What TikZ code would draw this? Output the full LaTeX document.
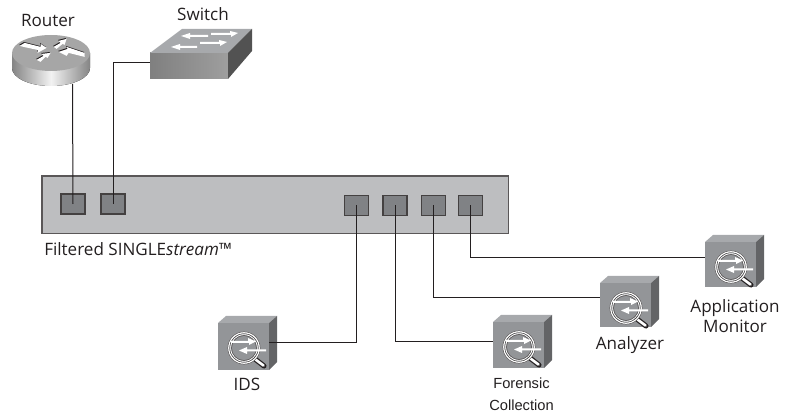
\documentclass[tikz,border=0pt]{standalone}
\usepackage{fontspec}
\setmainfont{Open Sans}
\newfontfamily\arialish{Liberation Sans}
\usetikzlibrary{calc}
\definecolor{chassis}{HTML}{BDBEC0}
\definecolor{portfill}{HTML}{808285}
\definecolor{wirec}{HTML}{231F20}
\definecolor{cubefront}{HTML}{939598}
\definecolor{cubetop}{HTML}{A7A9AC}
\definecolor{cuberight}{HTML}{636466}
\tikzset{
  x=0.75pt,y=-0.75pt,
  porto/.style={draw=wirec!85,fill=portfill,line width=0.9pt,minimum width=18pt,minimum height=15pt,inner sep=0pt,outer sep=0pt},
  wire/.style={draw=wirec,line width=0.75pt},
  lab/.style={font=\fontsize{12.8}{15}\selectfont,text=wirec,inner sep=0pt,align=center},
  anchorpt/.style={inner sep=0pt,minimum size=0pt,outer sep=0pt}
}
% #1 x, #2 y (front top-left), #3 height, #4 wire offset, #5 name
\newcommand{\probecube}[5]{%
\begin{scope}[shift={(#1,#2)}]
  \fill[cubefront] (0,0) rectangle (51,#3);
  \fill[cubetop] (0,0) -- (8,-7) -- (59,-7) -- (51,0) -- cycle;
  \fill[cuberight] (51,0) -- (59,-7) -- (59,#3-8) -- (51,#3) -- cycle;
  \draw[wirec,line width=3.8pt,line cap=round] (37,36) -- (46,43);
  \draw[white,line width=2pt,line cap=round] (37.5,36.5) -- (45.5,42.5);
  \draw[wirec!80,line width=0.5pt] (26,25) circle (16);
  \draw[white,line width=0.9pt] (26,25) circle (15.2);
  \draw[wirec!80,line width=0.4pt] (26,25) circle (14.2);
  \draw[white,line width=0.6pt] (26,25) circle (13.3);
  \draw[wirec!80,line width=0.4pt] (26,25) circle (12.5);
  \fill[white] (13,18) -- (30,18) -- (30,15) -- (38,18.5) -- (31,22) -- (31,20) -- (13,20) -- cycle;
  \fill[white] (48,26.5) -- (29,26.5) -- (29,24) -- (21,27.5) -- (29,31) -- (29,28.5) -- (48,28.5) -- cycle;
  \coordinate (#5l) at (0,#4);
  \coordinate (#5r) at (51,#4);
\end{scope}}
\begin{document}
\begin{tikzpicture}
\useasboundingbox (0,0) rectangle (794,417);
% chassis
\node[draw=wirec!75,fill=chassis,line width=1pt,minimum width=350pt,minimum height=43pt,inner sep=0pt,outer sep=0pt,anchor=north west] (chassis) at (42,176) {};
\node[porto] (p1) at (73,204) {};
\node[porto] (p2) at (113,204) {};
\node[porto] (p3) at (356.5,205.5) {};
\node[porto] (p4) at (395,205.5) {};
\node[porto] (p5) at (433.5,205.5) {};
\node[porto] (p6) at (470.5,205.5) {};
% router
\fill[left color=black!48,right color=black!48,middle color=black!5] (12,53) -- (12,68) arc[start angle=180,end angle=0,x radius=39,y radius=18] -- (90,53) -- cycle;
\fill[black!35] (51,53) ellipse[x radius=39,y radius=18];
\node[anchorpt] (routerb) at (72.5,84) {};
\foreach \pts in {{(19,45)--(24,42)--(40,46)--(40,43)--(46,47)--(37,52)--(37,49)--(23,46)},{(53,46)--(60,42)--(58,40)--(66,38)--(64,44)--(62,43)--(56,48)},{(36,59)--(43,55)--(41,53)--(50,52)--(47,57)--(45,56)--(40,61)},{(58,51)--(67,48)--(66,46)--(84,52)--(84,56)--(68,52)--(66,55)}}
  {\fill[wirec] \pts -- cycle;
   \fill[white,shift={(0.6,0.9)}] \pts -- cycle;}
% switch
\fill[left color=black!50,right color=black!38] (150,53) rectangle (228,79);
\fill[cubetop] (150,53) -- (182,29) -- (252,29) -- (228,53) -- cycle;
\fill[black!68] (228,53) -- (252,29) -- (252,51) -- (228,79) -- cycle;
\foreach \pts in {{(181,36)--(190,33)--(190,35)--(208,35)--(208,37)--(190,37)--(190,39)},{(211,33)--(230,33)--(230,31)--(238,33)--(231,37)--(231,35)--(211,35)},{(171,47)--(180,44)--(180,46)--(197,46)--(197,48)--(180,48)--(180,50)},{(200,42)--(219,42)--(219,40)--(227,42)--(220,46)--(220,44)--(200,44)}}
  {\fill[white] \pts -- cycle;}
\node[anchorpt] (switchl) at (150,63) {};
% probes
\probecube{218}{323}{47}{20}{ids}
\probecube{493}{322}{46}{20}{forensic}
\probecube{600}{283}{44}{15}{analyzer}
\probecube{705}{242}{45}{16}{appmon}
% wires
\draw[wire] (routerb.center) -- (p1.center);
\draw[wire] (switchl.center) -| (p2.center);
\draw[wire] (p3.center) |- (idsr);
\draw[wire] (p4.center) |- (forensicl);
\draw[wire] (p5.center) |- (analyzerl);
\draw[wire] (p6.center) |- (appmonl);
% labels
\node[lab] (t1) at (48,20) {Router};
\node[lab] (t2) at (203,14) {Switch};
\node[lab,anchor=west] (t3) at (44,249) {Filtered SINGLE\textit{stream}™};
\node[lab] (t4) at (247,384) {IDS};
\node[lab,font=\arialish\fontsize{11}{16.5}\selectfont] (t5) at (521.5,394) {Forensic\\Collection};
\node[lab] (t6) at (630,345) {Analyzer};
\node[lab,font=\fontsize{12.8}{14.5}\selectfont] (t7) at (735,316) {Application\\Monitor};
\end{tikzpicture}
\end{document}
